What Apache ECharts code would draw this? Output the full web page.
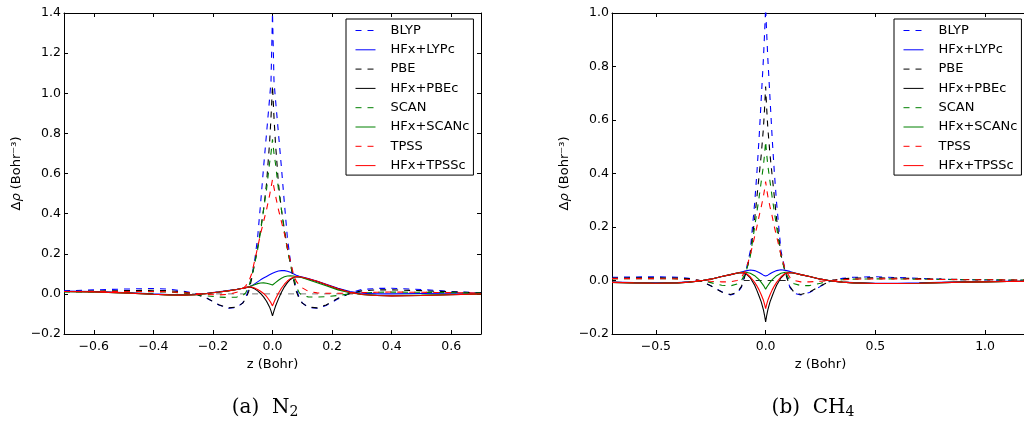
<!DOCTYPE html>
<html lang="en">
<head>
    <meta charset="UTF-8">
    <title>Delta rho</title>
    <script src="https://cdn.jsdelivr.net/npm/echarts@6/dist/echarts.min.js"></script>
    <style>
        html, body { margin: 0; padding: 0; background: #fff; }
    </style>
</head>
<body>
<div id="main" style="width: 1024px;height:423px;"></div>

<script type="text/javascript">
    // names in legend order
    var names = ['BLYP', 'HFx+LYPc', 'PBE', 'HFx+PBEc', 'SCAN', 'HFx+SCANc', 'TPSS', 'HFx+TPSSc'];

    // (a) N2 : z grid and curves
    var zN2 = [-0.7,-0.6,-0.5,-0.4,-0.35,-0.3,-0.26,-0.22,-0.18,-0.15,
        -0.12,-0.1,-0.09,-0.08,-0.07,-0.06,-0.05,-0.04,-0.03,-0.02,
        -0.01,-0.005,0,0.005,0.01,0.02,0.03,0.04,0.05,0.06,
        0.07,0.08,0.09,0.1,0.12,0.15,0.18,0.22,0.26,0.3,
        0.35,0.4,0.5,0.6,0.7];
    var blypN2 = [0.015,0.02,0.024,0.027,0.024,0.014,0.003,-0.022,-0.055,-0.072,
        -0.068,-0.045,-0.02,0.025,0.085,0.165,0.28,0.45,0.63,0.8,
        0.97,1.06,1.4,1.06,0.97,0.8,0.63,0.45,0.28,0.165,
        0.085,0.025,-0.02,-0.045,-0.068,-0.072,-0.058,-0.025,0.005,0.022,
        0.027,0.028,0.022,0.012,0.005];
    var hfLypN2 = [0.014,0.012,0.007,0.0,-0.003,-0.004,-0.002,0.003,0.01,0.016,
        0.023,0.028,0.031,0.034,0.04,0.05,0.06,0.07,0.079,0.087,
        0.095,0.099,0.103,0.106,0.109,0.114,0.116,0.116,0.113,0.108,
        0.1,0.093,0.088,0.084,0.076,0.063,0.048,0.028,0.012,0.003,
        0.0,0.0,0.002,0.003,0.004];
    var pbeN2 = [0.012,0.014,0.016,0.018,0.016,0.01,0.0,-0.022,-0.054,-0.07,
        -0.066,-0.046,-0.025,0.012,0.075,0.15,0.23,0.32,0.42,0.55,
        0.75,0.88,1.04,0.88,0.75,0.55,0.42,0.32,0.23,0.15,
        0.075,0.012,-0.025,-0.046,-0.066,-0.07,-0.055,-0.022,0.002,0.015,
        0.02,0.02,0.016,0.01,0.005];
    var hfPbeN2 = [0.012,0.01,0.005,-0.002,-0.005,-0.006,-0.004,0.002,0.009,0.015,
        0.022,0.028,0.031,0.034,0.032,0.025,0.015,0.002,-0.015,-0.037,
        -0.065,-0.085,-0.11,-0.085,-0.062,-0.025,0.008,0.035,0.056,0.072,
        0.082,0.085,0.084,0.082,0.074,0.062,0.046,0.025,0.008,-0.003,
        -0.008,-0.01,-0.008,-0.004,0.0];
    var scanN2 = [0.01,0.01,0.011,0.011,0.009,0.004,-0.002,-0.01,-0.016,-0.018,
        -0.016,-0.008,0.005,0.035,0.085,0.15,0.22,0.31,0.42,0.52,
        0.65,0.7,0.77,0.7,0.65,0.52,0.42,0.31,0.22,0.15,
        0.085,0.035,0.005,-0.008,-0.015,-0.016,-0.014,-0.008,0.0,0.005,
        0.008,0.009,0.008,0.006,0.004];
    var hfScanN2 = [0.011,0.009,0.005,-0.002,-0.005,-0.006,-0.004,0.002,0.009,0.015,
        0.022,0.028,0.031,0.035,0.04,0.046,0.051,0.054,0.055,0.053,
        0.049,0.046,0.044,0.05,0.056,0.068,0.078,0.085,0.089,0.09,
        0.089,0.087,0.084,0.08,0.07,0.055,0.04,0.02,0.006,-0.003,
        -0.007,-0.008,-0.006,-0.003,0.0];
    var tpssN2 = [0.012,0.012,0.012,0.012,0.01,0.006,0.002,-0.003,-0.005,-0.003,
        0.008,0.025,0.04,0.06,0.1,0.165,0.23,0.3,0.36,0.42,
        0.49,0.53,0.57,0.53,0.49,0.42,0.36,0.3,0.23,0.165,
        0.1,0.062,0.043,0.03,0.013,0.005,0.003,0.003,0.004,0.006,
        0.008,0.009,0.008,0.006,0.004];
    var hfTpssN2 = [0.012,0.01,0.005,-0.002,-0.005,-0.006,-0.004,0.002,0.009,0.015,
        0.022,0.028,0.031,0.034,0.034,0.029,0.022,0.013,0.002,-0.013,
        -0.033,-0.045,-0.06,-0.042,-0.026,0.003,0.028,0.048,0.064,0.076,
        0.083,0.086,0.085,0.083,0.075,0.063,0.047,0.026,0.008,-0.003,
        -0.008,-0.01,-0.008,-0.004,0.0];
    var zeroZN2 = [-0.27, 0.27];
    var zeroN2 = [0, 0];

    // (b) CH4 : z grid and curves
    var zCH4 = [-0.7,-0.6,-0.5,-0.4,-0.35,-0.3,-0.25,-0.2,-0.16,-0.13,
        -0.11,-0.09,-0.07,-0.05,-0.04,-0.03,-0.02,-0.01,-0.005,0,
        0.005,0.01,0.02,0.03,0.04,0.05,0.07,0.09,0.11,0.13,
        0.16,0.2,0.25,0.3,0.35,0.4,0.5,0.6,0.7,0.8,
        0.9,1.0,1.1,1.2];
    var blypCH4 = [0.012,0.013,0.014,0.012,0.008,0.0,-0.02,-0.042,-0.054,-0.048,
        -0.025,0.035,0.11,0.29,0.4,0.53,0.68,0.83,0.92,1.02,
        0.92,0.83,0.68,0.53,0.4,0.29,0.11,0.035,-0.025,-0.048,
        -0.054,-0.045,-0.022,0.0,0.008,0.012,0.014,0.011,0.008,0.005,
        0.003,0.002,0.001,0.001];
    var hfLypCH4 = [-0.006,-0.008,-0.009,-0.008,-0.005,-0.002,0.005,0.015,0.022,0.028,
        0.032,0.036,0.039,0.037,0.034,0.03,0.025,0.02,0.018,0.017,
        0.018,0.02,0.025,0.03,0.034,0.037,0.04,0.038,0.034,0.029,
        0.022,0.015,0.005,-0.002,-0.006,-0.008,-0.01,-0.01,-0.009,-0.007,
        -0.005,-0.004,-0.003,-0.003];
    var pbeCH4 = [0.009,0.01,0.01,0.009,0.006,0.0,-0.02,-0.043,-0.052,-0.045,
        -0.022,0.028,0.095,0.23,0.31,0.39,0.47,0.57,0.64,0.725,
        0.64,0.57,0.47,0.39,0.31,0.23,0.095,0.028,-0.022,-0.045,
        -0.052,-0.043,-0.02,0.0,0.006,0.009,0.01,0.009,0.007,0.005,
        0.004,0.003,0.002,0.002];
    var hfPbeCH4 = [-0.007,-0.009,-0.01,-0.009,-0.006,-0.002,0.005,0.015,0.022,0.027,
        0.029,0.026,0.01,-0.018,-0.037,-0.058,-0.08,-0.11,-0.13,-0.155,
        -0.13,-0.11,-0.08,-0.058,-0.037,-0.018,0.01,0.026,0.029,0.027,
        0.022,0.015,0.005,-0.002,-0.006,-0.009,-0.011,-0.011,-0.01,-0.008,
        -0.006,-0.005,-0.004,-0.003];
    var scanCH4 = [0.006,0.007,0.007,0.006,0.004,0.0,-0.008,-0.018,-0.02,-0.013,
        0.0,0.03,0.09,0.2,0.255,0.31,0.37,0.43,0.47,0.52,
        0.47,0.43,0.37,0.31,0.255,0.2,0.09,0.03,0.0,-0.012,
        -0.019,-0.019,-0.01,0.0,0.003,0.005,0.006,0.006,0.005,0.004,
        0.003,0.003,0.002,0.002];
    var hfScanCH4 = [-0.007,-0.009,-0.01,-0.009,-0.006,-0.002,0.005,0.015,0.022,0.028,
        0.031,0.031,0.027,0.018,0.011,0.003,-0.007,-0.018,-0.025,-0.033,
        -0.025,-0.018,-0.007,0.003,0.011,0.018,0.027,0.031,0.031,0.028,
        0.022,0.015,0.005,-0.002,-0.006,-0.009,-0.011,-0.011,-0.01,-0.008,
        -0.006,-0.005,-0.004,-0.003];
    var tpssCH4 = [0.007,0.007,0.007,0.006,0.004,0.0,-0.003,-0.005,-0.005,0.0,
        0.012,0.04,0.095,0.165,0.2,0.24,0.275,0.315,0.34,0.37,
        0.34,0.315,0.275,0.24,0.2,0.165,0.095,0.04,0.012,0.0,
        -0.005,-0.005,-0.003,0.0,0.003,0.005,0.006,0.006,0.005,0.004,
        0.003,0.003,0.002,0.002];
    var hfTpssCH4 = [-0.007,-0.009,-0.01,-0.009,-0.006,-0.002,0.005,0.015,0.022,0.028,
        0.03,0.027,0.014,-0.007,-0.02,-0.035,-0.053,-0.074,-0.088,-0.105,
        -0.088,-0.074,-0.053,-0.035,-0.02,-0.007,0.014,0.027,0.03,0.028,
        0.022,0.015,0.005,-0.002,-0.006,-0.009,-0.011,-0.011,-0.01,-0.008,
        -0.006,-0.005,-0.004,-0.003];
    var zeroZCH4 = [-0.1, 0.1];
    var zeroCH4 = [0, 0];

    // tick values
    var xTicksN2 = [-0.6, -0.4, -0.2, 0.0, 0.2, 0.4, 0.6];
    var xTicksCH4 = [-0.5, 0.0, 0.5, 1.0];

    var colors = ['#0000ff', '#0000ff', '#000000', '#000000', '#008000', '#008000', '#ff0000', '#ff0000'];
    var dashed = [true, false, true, false, true, false, true, false];

    var myChart = echarts.init(document.getElementById('main'));

    function pairs(xs, ys) {
        return xs.map(function (x, i) { return [x, ys[i]]; });
    }
    function minus(v) {
        return String(v).replace('-', '\u2212');
    }

    var font = 'DejaVu Sans';

    function mkAxes(p, xmin, xmax, ymin, ymax, xticks) {
        var lineS = {show: true, onZero: false, lineStyle: {color: '#000', width: 1}};
        var tickS = {show: true, inside: true, length: 4, lineStyle: {color: '#000'}};
        var bottom = {
            type: 'value', gridIndex: p, min: xmin, max: xmax, position: 'bottom',
            axisLine: lineS,
            axisTick: Object.assign({customValues: xticks}, tickS),
            axisLabel: {customValues: xticks, margin: 6, color: '#000', fontFamily: font, fontSize: 12.5,
                formatter: function (v) { return minus(v.toFixed(1)); }},
            splitLine: {show: false},
            name: 'z (Bohr)', nameLocation: 'middle', nameGap: 19,
            nameTextStyle: {color: '#000', fontFamily: font, fontSize: 13}
        };
        var top = {
            type: 'value', gridIndex: p, min: xmin, max: xmax, position: 'top',
            axisLine: lineS,
            axisTick: Object.assign({customValues: xticks}, tickS),
            axisLabel: {show: false}, splitLine: {show: false}
        };
        var left = {
            type: 'value', gridIndex: p, min: ymin, max: ymax, interval: 0.2, position: 'left',
            axisLine: lineS, axisTick: tickS,
            axisLabel: {margin: 3, color: '#000', fontFamily: font, fontSize: 12.5,
                formatter: function (v) { return minus(v.toFixed(1)); }},
            splitLine: {show: false},
            name: '\u0394{i|\u03c1} (Bohr\u207b\u00b3)', nameLocation: 'middle', nameGap: 41, nameRotate: 90,
            nameTextStyle: {color: '#000', fontFamily: font, fontSize: 13,
                rich: {i: {fontStyle: 'italic', fontFamily: font, fontSize: 13, color: '#000'}}}
        };
        var right = {
            type: 'value', gridIndex: p, min: ymin, max: ymax, interval: 0.2, position: 'right',
            axisLine: lineS, axisTick: tickS,
            axisLabel: {show: false}, splitLine: {show: false}
        };
        return {x: [bottom, top], y: [left, right]};
    }

    var axN2 = mkAxes(0, -0.7, 0.7, -0.2, 1.4, xTicksN2);
    var axCH4 = mkAxes(1, -0.7, 1.2, -0.2, 1.0, xTicksCH4);

    var dataN2 = [blypN2, hfLypN2, pbeN2, hfPbeN2, scanN2, hfScanN2, tpssN2, hfTpssN2];
    var dataCH4 = [blypCH4, hfLypCH4, pbeCH4, hfPbeCH4, scanCH4, hfScanCH4, tpssCH4, hfTpssCH4];

    var series = [];
    // zero guide lines
    series.push({type: 'line', xAxisIndex: 0, yAxisIndex: 0, symbol: 'none', silent: true,
        data: pairs(zeroZN2, zeroN2), lineStyle: {color: '#777', width: 1, type: [6, 6]}, z: 1});
    series.push({type: 'line', xAxisIndex: 2, yAxisIndex: 2, symbol: 'none', silent: true,
        data: pairs(zeroZCH4, zeroCH4), lineStyle: {color: '#222', width: 1, type: [6, 6]}, z: 1});

    [[zN2, dataN2, 0], [zCH4, dataCH4, 2]].forEach(function (panel) {
        names.forEach(function (n, i) {
            series.push({
                type: 'line', name: n, xAxisIndex: panel[2], yAxisIndex: panel[2],
                symbol: 'none', smooth: false, animation: false,
                data: pairs(panel[0], panel[1][i]),
                itemStyle: {color: colors[i]},
                lineStyle: {color: colors[i], width: 1.1, type: dashed[i] ? [6, 6] : 'solid'},
                z: 2 + i
            });
        });
    });

    function mkLegend(left) {
        return {
            data: names, orient: 'vertical', left: left, top: 19,
            itemWidth: 20, itemHeight: 14, itemGap: 6.3,
            padding: [5, 4, 3, 9],
            borderColor: '#000', borderWidth: 1, backgroundColor: '#fff',
            selectedMode: false,
            itemStyle: {color: 'rgba(0,0,0,0)', borderColor: 'rgba(0,0,0,0)', borderWidth: 0},
            lineStyle: {width: 1},
            textStyle: {color: '#000', fontFamily: font, fontSize: 13, padding: [0, 0, 0, 10]}
        };
    }

    var option = {
        animation: false,
        backgroundColor: '#fff',
        grid: [
            {left: 64, top: 13, width: 417, height: 321, outerBoundsMode: 'none', containLabel: false},
            {left: 612, top: 13, width: 417, height: 321, outerBoundsMode: 'none', containLabel: false}
        ],
        xAxis: axN2.x.concat(axCH4.x),
        yAxis: axN2.y.concat(axCH4.y),
        legend: [mkLegend(346), mkLegend(894)],
        graphic: [
            {
                type: 'text', x: 265, y: 408,
                style: {
                    text: '(a)  N{s|2}', fontFamily: 'DejaVu Serif', fontSize: 20, fill: '#000',
                    align: 'center', verticalAlign: 'middle',
                    rich: {s: {fontFamily: 'DejaVu Serif', fontSize: 14, padding: [8, 0, 0, 0]}}
                }
            },
            {
                type: 'text', x: 813, y: 408,
                style: {
                    text: '(b)  CH{s|4}', fontFamily: 'DejaVu Serif', fontSize: 20, fill: '#000',
                    align: 'center', verticalAlign: 'middle',
                    rich: {s: {fontFamily: 'DejaVu Serif', fontSize: 14, padding: [8, 0, 0, 0]}}
                }
            }
        ],
        series: series
    };

    myChart.setOption(option);
</script>
</body>
</html>
